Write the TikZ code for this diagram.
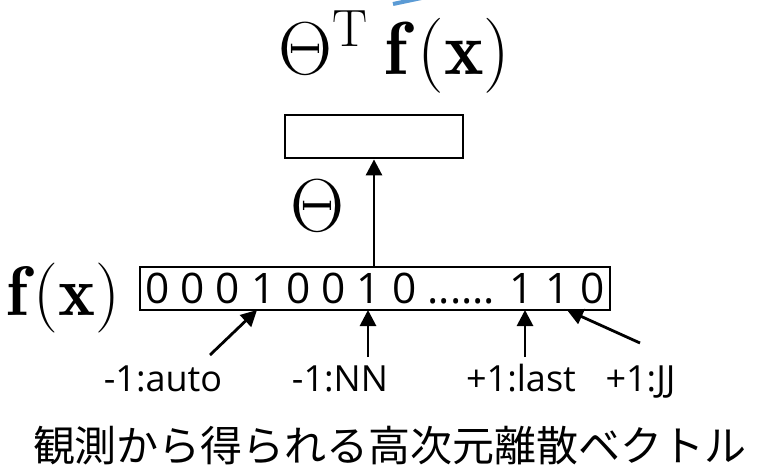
\RequirePackage{fix-cm}
\documentclass[tikz,border=0pt]{standalone}
\usepackage{graphicx}
\usepackage{fontspec}
\newfontfamily\osans{Open Sans}
\newfontfamily\jpfont{Noto Sans CJK JP}
\usetikzlibrary{arrows.meta}
\definecolor{blueline}{RGB}{91,155,213}
\begin{document}
\begin{tikzpicture}[x=1pt,y=-1pt,
  boxst/.style={draw,line width=2.8pt,inner sep=0pt,minimum height=43pt},
  arr/.style={line width=2.8pt,-{Triangle[length=16pt,width=16pt]}},
  lbl/.style={font=\fontsize{36}{40}\selectfont\osans,anchor=base,inner sep=0pt},
  mth/.style={anchor=base west,inner sep=0pt}]
\clip (0,0) rectangle (761,469);
\fill[white] (0,0) rectangle (761,469);
\draw[line width=4pt,color=blueline] (393,4) -- (431,-4);
\node[mth,font=\fontsize{75}{80}\selectfont] (out) at (278,74) {$\Theta^{\mathrm{T}}\mkern4mu\mathbf{f}\mkern2.5mu(\mathbf{x})$};
\node[boxst,minimum width=178pt] (tv) at (374,136.5) {};
\node[mth,font=\fontsize{75}{80}\selectfont] (th) at (290,231) {$\Theta$};
\node[mth,font=\fontsize{70}{74}\selectfont] (fxl) at (6,315) {$\mathbf{f}\mkern1.5mu(\mathbf{x})$};
\node[boxst,minimum width=470pt] (fx) at (375,288.5) {\resizebox{459pt}{30.5pt}{\fontsize{42}{48}\selectfont\osans 0 0 0 1 0 0 1 0 ...... 1 1 0}};
\draw[arr] (fx.north -| tv.south) -- (tv.south);
\node[lbl] (la) at (163,391) {-1:auto};
\node[lbl] (lb) at (340,391) {-1:NN};
\node[lbl] (lc) at (521,391) {+1:last};
\node[lbl] (ld) at (640.5,391) {+1:JJ};
\coordinate (sa) at (210,355);
\coordinate (sb) at (368,357);
\coordinate (sc) at (525,357);
\coordinate (sd) at (640,343);
\coordinate (ea) at (257,310);
\coordinate (eb) at (368,310);
\coordinate (ec) at (525,310);
\coordinate (ed) at (567,310);
\draw[arr] (sa) -- (ea);
\draw[arr] (sb) -- (eb);
\draw[arr] (sc) -- (ec);
\draw[arr] (sd) -- (ed);
\node[font=\fontsize{42}{48}\selectfont\jpfont,inner sep=0pt] (jp) at (390,446) {観測から得られる高次元離散ベクトル};
\end{tikzpicture}
\end{document}
